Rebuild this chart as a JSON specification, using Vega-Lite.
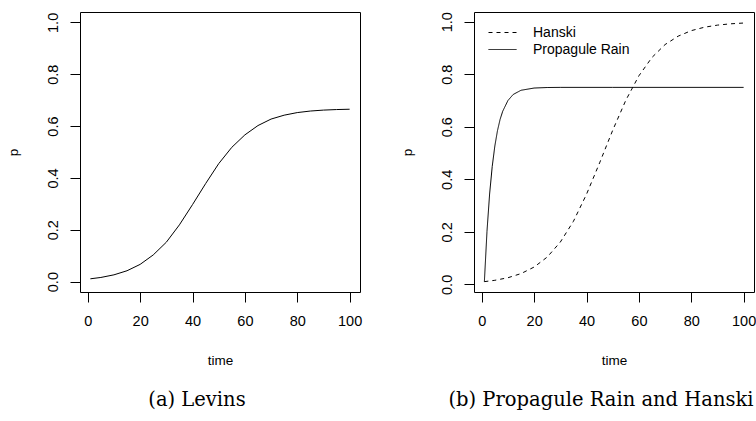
{
  "$schema": "https://vega.github.io/schema/vega-lite/v6.json",
  "autosize": {"type": "pad"},
  "padding": {"left": 5, "top": 11, "right": 0, "bottom": 0},
  "background": "white",
  "spacing": 114,
  "bounds": "flush",
  "config": {
    "font": "Liberation Sans",
    "view": {"stroke": "black", "strokeWidth": 1, "fill": null},
    "axis": {
      "grid": false,
      "domain": false,
      "tickColor": "black",
      "tickSize": 10,
      "tickWidth": 1,
      "labelFont": "Liberation Sans",
      "labelFontSize": 14.5,
      "labelColor": "black",
      "titleFont": "Liberation Sans",
      "titleFontSize": 13.5,
      "titleFontWeight": "normal",
      "titleColor": "black"
    },
    "axisX": {"labelPadding": 12, "titlePadding": 26, "labelFlush": false},
    "axisY": {"labelAngle": -90, "labelAlign": "center", "labelBaseline": "bottom", "labelPadding": 10, "titlePadding": 25, "labelFlush": false},
    "title": {"font": "DejaVu Serif", "fontSize": 19.5, "fontWeight": "normal", "color": "black"}
  },
  "datasets": {
    "levins": [
      {"time": 1, "p": 0.0109}, {"time": 5, "p": 0.0161}, {"time": 10, "p": 0.0262},
      {"time": 15, "p": 0.042}, {"time": 20, "p": 0.0665}, {"time": 25, "p": 0.103},
      {"time": 30, "p": 0.152}, {"time": 35, "p": 0.219}, {"time": 40, "p": 0.297},
      {"time": 45, "p": 0.378}, {"time": 50, "p": 0.455}, {"time": 55, "p": 0.518},
      {"time": 60, "p": 0.566}, {"time": 65, "p": 0.602}, {"time": 70, "p": 0.627},
      {"time": 75, "p": 0.642}, {"time": 80, "p": 0.652}, {"time": 85, "p": 0.658},
      {"time": 90, "p": 0.6616}, {"time": 95, "p": 0.6637}, {"time": 100, "p": 0.665}
    ],
    "right": [
      {"series": "Hanski", "time": 1, "p": 0.0105}, {"series": "Hanski", "time": 5, "p": 0.0155},
      {"series": "Hanski", "time": 10, "p": 0.0253}, {"series": "Hanski", "time": 15, "p": 0.0411},
      {"series": "Hanski", "time": 20, "p": 0.066}, {"series": "Hanski", "time": 25, "p": 0.104},
      {"series": "Hanski", "time": 30, "p": 0.161}, {"series": "Hanski", "time": 35, "p": 0.24},
      {"series": "Hanski", "time": 40, "p": 0.343}, {"series": "Hanski", "time": 45, "p": 0.4625},
      {"series": "Hanski", "time": 50, "p": 0.5866}, {"series": "Hanski", "time": 55, "p": 0.7007},
      {"series": "Hanski", "time": 60, "p": 0.794}, {"series": "Hanski", "time": 65, "p": 0.864},
      {"series": "Hanski", "time": 70, "p": 0.913}, {"series": "Hanski", "time": 75, "p": 0.945},
      {"series": "Hanski", "time": 80, "p": 0.966}, {"series": "Hanski", "time": 85, "p": 0.979},
      {"series": "Hanski", "time": 90, "p": 0.987}, {"series": "Hanski", "time": 95, "p": 0.992},
      {"series": "Hanski", "time": 100, "p": 0.995},
      {"series": "Propagule Rain", "time": 1, "p": 0.01}, {"series": "Propagule Rain", "time": 2, "p": 0.202},
      {"series": "Propagule Rain", "time": 3, "p": 0.344}, {"series": "Propagule Rain", "time": 4, "p": 0.449},
      {"series": "Propagule Rain", "time": 5, "p": 0.527}, {"series": "Propagule Rain", "time": 6, "p": 0.585},
      {"series": "Propagule Rain", "time": 7, "p": 0.628}, {"series": "Propagule Rain", "time": 8, "p": 0.659},
      {"series": "Propagule Rain", "time": 10, "p": 0.7}, {"series": "Propagule Rain", "time": 12, "p": 0.723},
      {"series": "Propagule Rain", "time": 15, "p": 0.739}, {"series": "Propagule Rain", "time": 20, "p": 0.7475},
      {"series": "Propagule Rain", "time": 25, "p": 0.7495}, {"series": "Propagule Rain", "time": 30, "p": 0.75},
      {"series": "Propagule Rain", "time": 50, "p": 0.75}, {"series": "Propagule Rain", "time": 100, "p": 0.75}
    ]
  },
  "hconcat": [
    {
      "width": 280,
      "height": 280,
      "data": {"name": "levins"},
      "title": {"text": "(a) Levins", "orient": "bottom", "anchor": "middle", "offset": 24, "dx": -23},
      "mark": {"type": "line", "color": "black", "strokeWidth": 1, "clip": true},
      "encoding": {
        "x": {"field": "time", "type": "quantitative", "scale": {"domain": [-2.96, 103.96], "nice": false, "zero": false},
              "axis": {"values": [0, 20, 40, 60, 80, 100], "title": "time"}},
        "y": {"field": "p", "type": "quantitative", "scale": {"domain": [-0.04, 1.04], "nice": false, "zero": false},
              "axis": {"values": [0, 0.2, 0.4, 0.6, 0.8, 1.0], "format": ".1f", "title": "p"}}
      }
    },
    {
      "width": 280,
      "height": 280,
      "data": {"name": "right"},
      "title": {"text": "(b) Propagule Rain and Hanski", "orient": "bottom", "anchor": "middle", "offset": 24, "dx": -13},
      "mark": {"type": "line", "color": "black", "strokeWidth": 1, "clip": true},
      "encoding": {
        "x": {"field": "time", "type": "quantitative", "scale": {"domain": [-2.96, 103.96], "nice": false, "zero": false},
              "axis": {"values": [0, 20, 40, 60, 80, 100], "title": "time"}},
        "y": {"field": "p", "type": "quantitative", "scale": {"domain": [-0.029, 1.037], "nice": false, "zero": false},
              "axis": {"values": [0, 0.2, 0.4, 0.6, 0.8, 1.0], "format": ".1f", "title": "p"}},
        "strokeDash": {"field": "series", "type": "nominal",
          "scale": {"domain": ["Hanski", "Propagule Rain"], "range": [[4, 4], [1, 0]]},
          "legend": {"title": null, "orient": "none", "legendX": 415, "legendY": 13, "padding": 0,
                     "symbolType": "M-2,0H2", "symbolSize": 196, "symbolStrokeColor": "black", "symbolStrokeWidth": 1, "symbolFillColor": "transparent",
                     "labelFontSize": 14, "labelFont": "Liberation Sans", "labelColor": "black", "labelOffset": 23, "rowPadding": 2}
        }
      }
    }
  ]
}
